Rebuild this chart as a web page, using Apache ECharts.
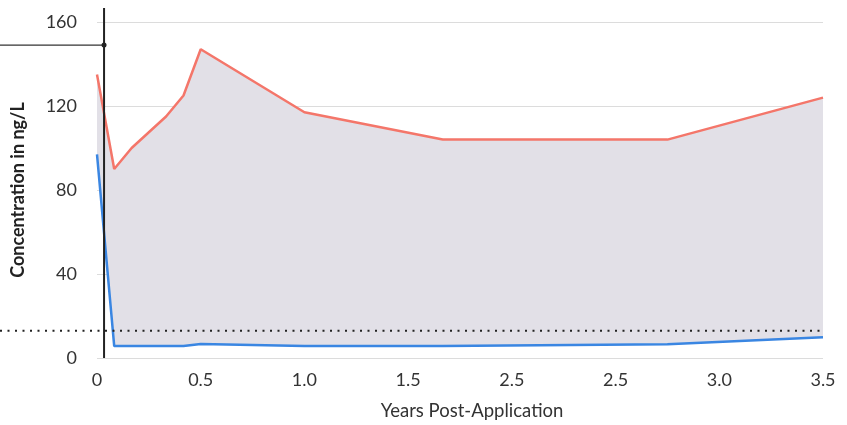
<!DOCTYPE html>
<html>
<head>
<meta charset="utf-8">
<script src="https://cdn.jsdelivr.net/npm/echarts@6/dist/echarts.min.js"></script>
<style>html,body{margin:0;padding:0;background:#fff}#c{width:847px;height:425px}</style>
</head>
<body>
<div id="c"></div>
<script>
// Data
const years = [0, 0.083, 0.167, 0.333, 0.417, 0.5, 1.0, 1.667, 2.75, 3.5];
const upper = [135, 90, 100, 115, 125, 147, 117, 104, 104, 124];
const lower = [97, 5.7, 5.7, 5.7, 5.7, 6.7, 5.7, 5.7, 6.5, 9.9];
const xTickLabels = ['0', '0.5', '1.0', '1.5', '2.5', '2.5', '3.0', '3.5'];
const yTicks = [0, 40, 80, 120, 160];
const thresholdLevel = 13;
const markerPoint = [0.034, 149];

const FONT = 'Lato';
const chart = echarts.init(document.getElementById('c'), null, {renderer: 'canvas'});

const lowerData = years.map((x, i) => [x, lower[i]]);
const upperData = years.map((x, i) => [x, upper[i]]);

chart.setOption({
  animation: false,
  grid: {left: 97, right: 24, top: 22, bottom: 67, containLabel: false, outerBoundsMode: 'none'},
  xAxis: {
    type: 'value', min: 0, max: 3.5, interval: 0.5,
    axisLine: {show: false}, axisTick: {show: false},
    splitLine: {show: false},
    axisLabel: {
      color: '#333', fontFamily: FONT, fontSize: 18, margin: 13,
      formatter: v => xTickLabels[Math.round(v / 0.5)] ?? ''
    },
    name: 'Years Post-Application', nameLocation: 'middle', nameGap: 44,
    nameTextStyle: {color: '#333', fontFamily: FONT, fontSize: 18.5, padding: [0, 0, 0, 24]}
  },
  yAxis: {
    type: 'value', min: yTicks[0], max: yTicks[yTicks.length - 1], interval: 40,
    axisLine: {show: false}, axisTick: {show: false},
    splitLine: {lineStyle: {color: '#dcdcdc', width: 1}},
    axisLabel: {color: '#333', fontFamily: FONT, fontSize: 18, margin: 20},
    name: 'Concentration in ng/L', nameLocation: 'middle', nameGap: 70,
    nameTextStyle: {color: '#222', fontFamily: FONT, fontSize: 18, fontWeight: 'bold'}
  },
  series: [
    {
      type: 'custom', clip: true, z: 1, silent: true,
      data: [[0, 0]],
      renderItem: function (params, api) {
        const pts = [];
        for (let i = 0; i < years.length; i++) pts.push(api.coord([years[i], upper[i]]));
        for (let i = years.length - 1; i >= 0; i--) pts.push(api.coord([years[i], lower[i]]));
        return {type: 'polygon', shape: {points: pts}, style: {fill: '#e2e0e7'}};
      }
    },
    {
      type: 'line', data: upperData, symbol: 'none',
      lineStyle: {color: '#f4766a', width: 2.5}, z: 3
    },
    {
      type: 'line', data: lowerData, symbol: 'none',
      lineStyle: {color: '#3a86e2', width: 2.5}, z: 3
    },
    {
      type: 'custom', clip: false, z: 5, silent: true,
      data: [[markerPoint[0], markerPoint[1], thresholdLevel]],
      renderItem: function (params, api) {
        const p = api.coord([api.value(0), api.value(1)]);
        const base = api.coord([api.value(0), 0]);
        const th = api.coord([3.5, api.value(2)]);
        return {
          type: 'group',
          children: [
            {type: 'line', shape: {x1: 0, y1: th[1], x2: th[0], y2: th[1]},
             style: {stroke: '#222', lineWidth: 2, lineDash: [2, 5.5]}},
            {type: 'line', shape: {x1: p[0], y1: base[1], x2: p[0], y2: 8},
             style: {stroke: '#222', lineWidth: 2}},
            {type: 'line', shape: {x1: 0, y1: p[1], x2: p[0], y2: p[1]},
             style: {stroke: '#333', lineWidth: 1.3}},
            {type: 'circle', shape: {cx: p[0], cy: p[1], r: 2.5},
             style: {fill: '#222'}}
          ]
        };
      }
    }
  ]
});
</script>
</body>
</html>
